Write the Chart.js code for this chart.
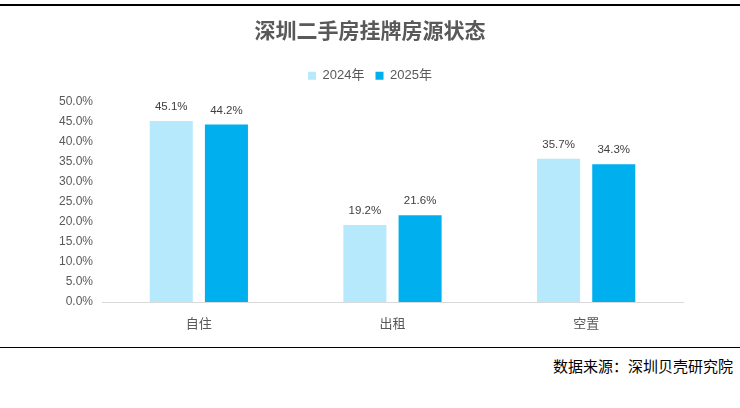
<!DOCTYPE html>
<html>
<head>
<meta charset="utf-8">
<script src="https://cdn.jsdelivr.net/npm/chart.js@4.4.1/dist/chart.umd.min.js"></script>
<style>
  body { margin: 0; background: #fff; }
  #wrap { position: relative; width: 740px; height: 408px; overflow: hidden; }
  #box { position: absolute; left: 0; top: 0; width: 740px; height: 345px; }
  .rule { position: absolute; left: 0; width: 740px; background: #000; }
  #src { position: absolute; right: 7px; top: 355px; font: 15px "Noto Sans CJK SC", sans-serif; color: #000; }
</style>
</head>
<body>
<div id="wrap">
  <div class="rule" style="top:4px;height:1.5px"></div>
  <div id="box"><canvas id="c"></canvas></div>
  <div class="rule" style="top:347px;height:1px"></div>
  <div id="src">数据来源：深圳贝壳研究院</div>
</div>
<script>
// categories and values
var categories = ["自住", "出租", "空置"];
var seriesNames = ["2024年", "2025年"];
var values2024 = [45.1, 19.2, 35.7];
var values2025 = [44.2, 21.6, 34.3];
var yTicks = [0, 5, 10, 15, 20, 25, 30, 35, 40, 45, 50];

var textColor = "#595959";
var font = "'Liberation Sans', Arial, 'Noto Sans CJK SC', sans-serif";

// labels above each bar
var barLabels = {
    id: "barLabels",
    afterDatasetsDraw: function (chart) {
        var ctx = chart.ctx;
        ctx.save();
        ctx.font = "11.5px " + font;
        ctx.fillStyle = "#404040";
        ctx.textAlign = "center";
        ctx.textBaseline = "middle";
        chart.data.datasets.forEach(function (ds, i) {
            chart.getDatasetMeta(i).data.forEach(function (bar, j) {
                ctx.fillText(ds.data[j].toFixed(1) + "%", bar.x, bar.y - 14);
            });
        });
        ctx.restore();
    }
};

// more room under the legend
var legendGap = {
    id: "legendGap",
    afterInit: function (chart) {
        var fit = chart.legend.fit;
        chart.legend.fit = function () {
            fit.call(this);
            this.height += 9;
        };
    }
};

new Chart(document.getElementById("c"), {
    type: "bar",
    data: {
        labels: categories,
        datasets: [
            { label: seriesNames[0], data: values2024, backgroundColor: "#B5E9FB" },
            { label: seriesNames[1], data: values2025, backgroundColor: "#00B0EE" }
        ]
    },
    options: {
        responsive: true,
        maintainAspectRatio: false,
        animation: false,
        categoryPercentage: 0.57,
        barPercentage: 0.78,
        layout: { padding: 0 },
        plugins: {
            title: {
                display: true,
                text: "深圳二手房挂牌房源状态",
                color: textColor,
                font: { size: 21, weight: "bold", family: "'Noto Sans CJK SC', sans-serif" },
                padding: { top: 17, bottom: 16 }
            },
            legend: {
                display: true,
                labels: {
                    color: textColor,
                    font: { size: 13, family: font },
                    boxWidth: 8,
                    boxHeight: 8,
                    padding: 11
                }
            },
            tooltip: { enabled: false }
        },
        scales: {
            x: {
                grid: { display: false },
                border: { color: "#D9D9D9" },
                ticks: { color: textColor, font: { size: 13, family: font }, padding: 7 },
                afterFit: function (s) { s.height = 43; }
            },
            y: {
                min: 0,
                max: 50,
                grid: { display: false, drawTicks: false },
                border: { display: false },
                afterBuildTicks: function (s) { s.ticks = yTicks.map(function (v) { return { value: v }; }); },
                ticks: {
                    color: textColor,
                    font: { size: 12, family: font },
                    padding: 9,
                    callback: function (v) { return v.toFixed(1) + "%"; }
                },
                afterFit: function (s) { s.width = 102; }
            },
            // empty right margin so title and legend center on the full width
            yRight: {
                position: "right",
                min: 0,
                max: 50,
                grid: { display: false, drawTicks: false },
                border: { display: false },
                ticks: { display: false },
                afterFit: function (s) { s.width = 57; }
            }
        }
    },
    plugins: [barLabels, legendGap]
});
</script>
</body>
</html>
